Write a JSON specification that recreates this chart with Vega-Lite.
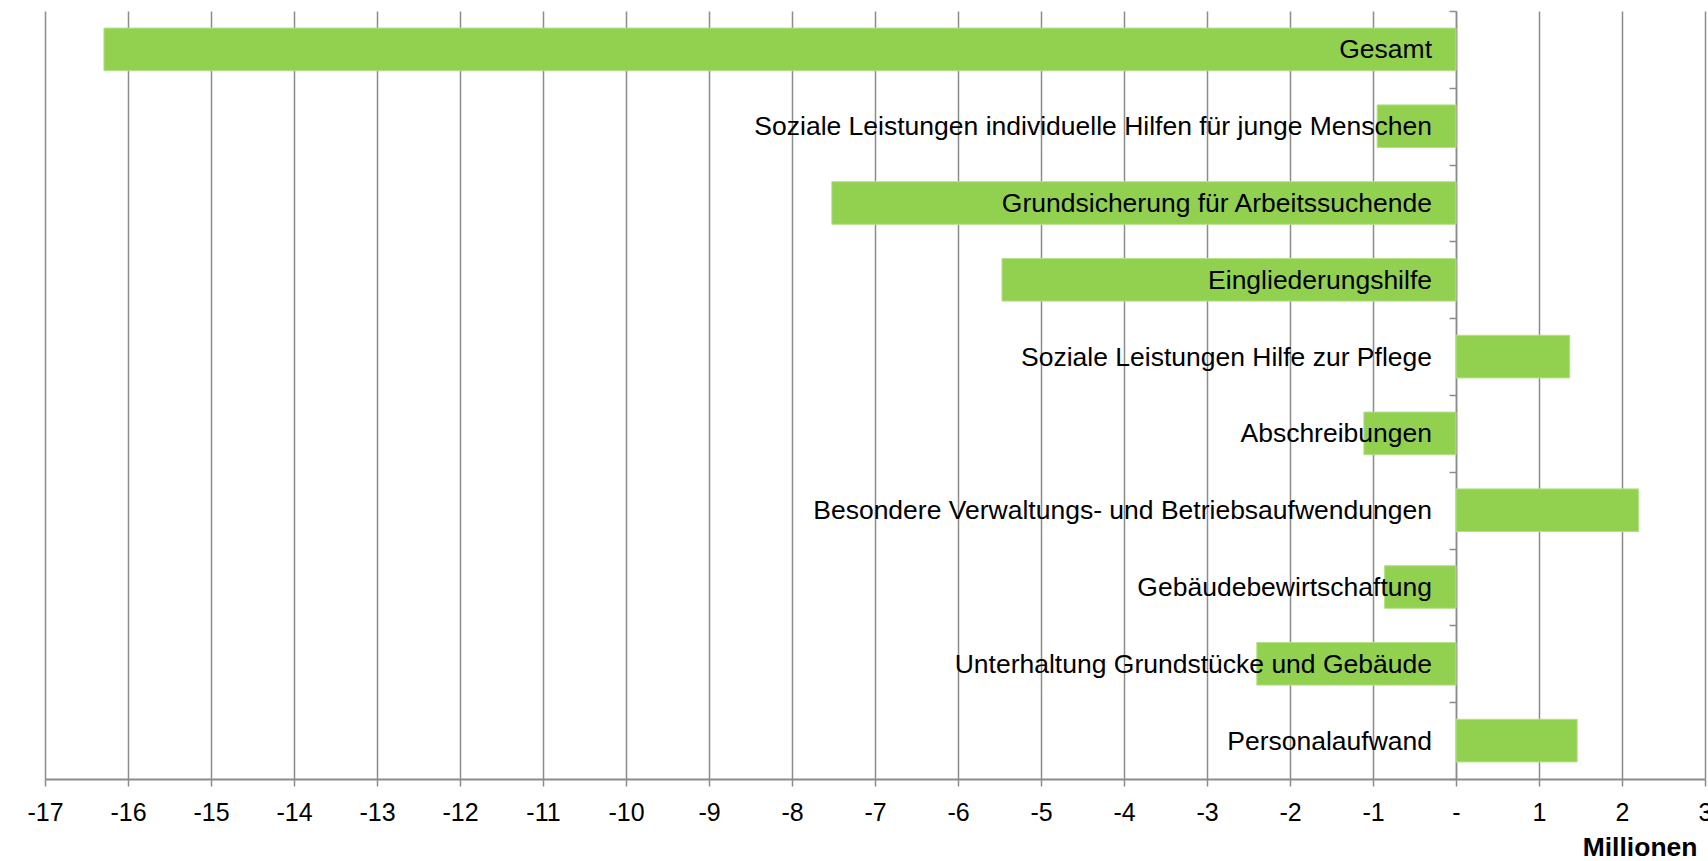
{
  "$schema": "https://vega.github.io/schema/vega-lite/v6.json",
  "autosize": "none",
  "width": 1660,
  "height": 768,
  "padding": {"left": 45, "top": 11, "right": 3, "bottom": 82},
  "background": "white",
  "config": {"view": {"stroke": null}, "font": "Liberation Sans"},
  "data": {"values": [
    {"kategorie": "Gesamt", "wert": -16.29, "ord": 1},
    {"kategorie": "Soziale Leistungen individuelle Hilfen für junge Menschen", "wert": -0.95, "ord": 2},
    {"kategorie": "Grundsicherung für Arbeitssuchende", "wert": -7.52, "ord": 3},
    {"kategorie": "Eingliederungshilfe", "wert": -5.47, "ord": 4},
    {"kategorie": "Soziale Leistungen Hilfe zur Pflege", "wert": 1.37, "ord": 5},
    {"kategorie": "Abschreibungen", "wert": -1.11, "ord": 6},
    {"kategorie": "Besondere Verwaltungs- und Betriebsaufwendungen", "wert": 2.20, "ord": 7},
    {"kategorie": "Gebäudebewirtschaftung", "wert": -0.86, "ord": 8},
    {"kategorie": "Unterhaltung Grundstücke und Gebäude", "wert": -2.40, "ord": 9},
    {"kategorie": "Personalaufwand", "wert": 1.46, "ord": 10}
  ]},
  "encoding": {
    "y": {
      "field": "kategorie", "type": "nominal",
      "sort": {"field": "ord", "order": "ascending"},
      "scale": {"paddingInner": 0, "paddingOuter": 0},
      "axis": {
        "title": null, "labels": false, "grid": false,
        "offset": -1411, "tickBand": "extent", "tickSize": 7,
        "tickColor": "#8c8c8c", "tickWidth": 1.5,
        "domainColor": "#8c8c8c", "domainWidth": 1.5
      }
    }
  },
  "layer": [
    {
      "mark": {"type": "bar", "color": "#92d050", "stroke": "#b4e08a", "strokeWidth": 1, "height": {"band": 0.555}},
      "encoding": {
        "x": {
          "field": "wert", "type": "quantitative",
          "scale": {"domain": [-17, 3], "nice": false, "zero": false},
          "axis": {
            "values": [-17,-16,-15,-14,-13,-12,-11,-10,-9,-8,-7,-6,-5,-4,-3,-2,-1,0,1,2,3],
            "labelExpr": "datum.value == 0 ? '-' : '' + datum.value",
            "grid": true, "gridColor": "#8c8c8c", "gridWidth": 1.5, "gridOpacity": 1,
            "domainColor": "#8c8c8c", "domainWidth": 2,
            "tickColor": "#8c8c8c", "tickWidth": 1.5, "tickSize": 7,
            "labelFont": "Liberation Sans", "labelFontSize": 25, "labelColor": "#000000",
            "labelBaseline": "alphabetic", "labelPadding": 34, "labelFlush": false,
            "labelOverlap": false,
            "title": "Millionen", "titleFont": "Liberation Sans", "titleFontSize": 26.5,
            "titleFontWeight": "bold", "titleColor": "#000000",
            "titleAnchor": "end", "titleAlign": "right", "titleBaseline": "alphabetic",
            "titleX": 1652, "titleY": 76
          }
        }
      }
    },
    {
      "mark": {"type": "text", "align": "right", "baseline": "middle", "dx": -24, "dy": 1,
               "font": "Liberation Sans", "fontSize": 26.5, "color": "#000000"},
      "encoding": {
        "x": {"datum": 0, "type": "quantitative"},
        "text": {"field": "kategorie"}
      }
    }
  ]
}
